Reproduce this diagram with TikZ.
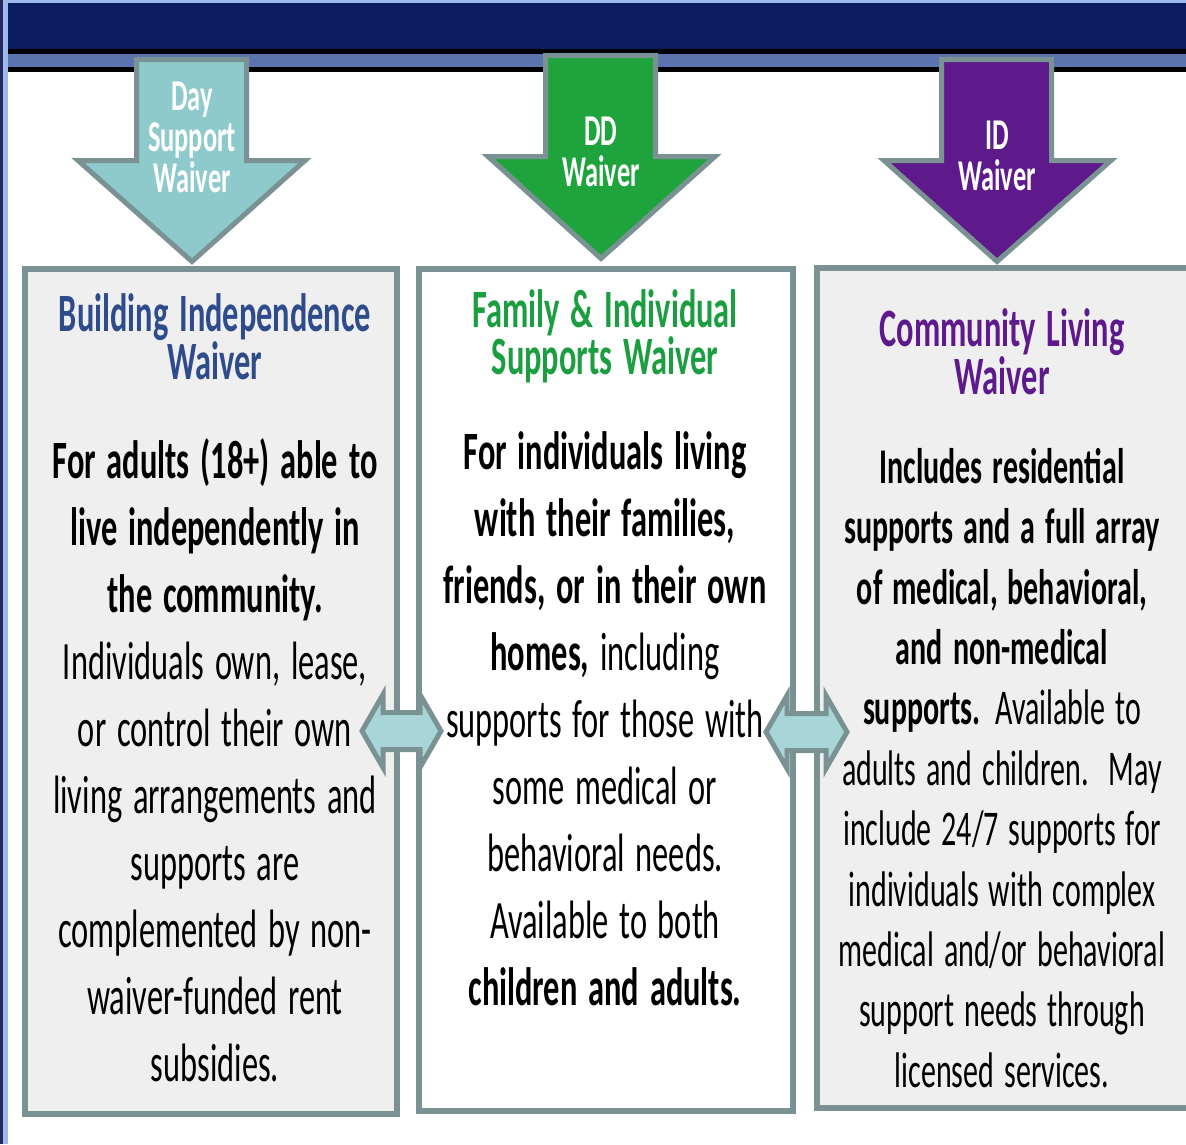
\documentclass[tikz,border=0pt]{standalone}
\usepackage{fontspec}
\setmainfont{Carlito}
\usepackage{tikz}

\definecolor{navy}{HTML}{0B1C5E}
\definecolor{band}{HTML}{5B74B0}
\definecolor{edgedark}{HTML}{232A5A}
\definecolor{edgelight}{HTML}{9DB9EE}
\definecolor{framegray}{HTML}{7A9294}
\definecolor{boxgray}{HTML}{EFEFEF}
\definecolor{dayteal}{HTML}{8ECACC}
\definecolor{ddgreen}{HTML}{1FA33C}
\definecolor{idpurple}{HTML}{5E1A8B}
\definecolor{linkcyan}{HTML}{A8D5D8}
\definecolor{biblue}{HTML}{2E4C8C}
\definecolor{fisgreen}{HTML}{1A9E3F}
\definecolor{clpurple}{HTML}{5E1A8C}

\begin{document}
\begin{tikzpicture}[x=1pt, y=-1pt,
  box/.style={draw=framegray, line width=6pt, inner sep=0pt},
  downarrow/.style={draw=framegray, line width=5pt, line join=miter},
  linkarrow/.style={draw=framegray, fill=linkcyan, line width=5pt, line join=miter},
  narrow/.style={xscale=0.6, align=center},
  arrowlabel/.style={narrow, text=white, font=\fontsize{44}{41}\selectfont\bfseries, inner sep=1pt},
  title/.style={narrow, font=\fontsize{54}{43}\selectfont\bfseries, text width=640pt},
  body/.style={narrow, font=\fontsize{54}{67}\selectfont, text width=640pt}]
\useasboundingbox (0,0) rectangle (1186,1144);
\clip (0,0) rectangle (1186,1144);
\fill[white] (0,0) rectangle (1186,1144);

% header bar
\fill[edgedark] (0,0) rectangle (3.3,1144);
\fill[edgelight] (3.3,0) rectangle (8.3,1144);
\fill[edgelight] (3.3,0) rectangle (1186,3.3);
\fill[navy] (8.3,3.3) rectangle (1186,49);
\fill[black] (8.3,49) rectangle (1186,54);
\fill[band] (8.3,54) rectangle (1186,67);
\fill[black] (8.3,67) rectangle (1186,72);

% the three waiver boxes
\node[box, fill=boxgray, minimum width=372pt, minimum height=845pt] (bi) at (210.5,691) {};
\node[box, fill=white, minimum width=374pt, minimum height=842pt] (fis) at (605.5,689.5) {};
\node[box, fill=boxgray, minimum width=377.5pt, minimum height=839.5pt] (cl) at (1006,688) {};

% down arrows
\draw[downarrow, fill=dayteal] (136.5,59.5) -- (246.5,59.5) -- (246.5,160.5) -- (305,160.5)
  -- (192,261.5) -- (78,160.5) -- (136.5,160.5) -- cycle;
\node[arrowlabel] (day) at (192,137) {Day\\Support\\Waiver};
\draw[downarrow, fill=ddgreen] (545.5,55.5) -- (655.5,55.5) -- (655.5,156.5) -- (715,156.5)
  -- (601,258.5) -- (488,156.5) -- (545.5,156.5) -- cycle;
\node[arrowlabel] (dd) at (601,152) {DD\\Waiver};
\draw[downarrow, fill=idpurple] (941.5,59.5) -- (1051.5,59.5) -- (1051.5,160.5) -- (1111,160.5)
  -- (997,261.5) -- (884,160.5) -- (941.5,160.5) -- cycle;
\node[arrowlabel] (id) at (997,156) {ID\\Waiver};

% titles
\node[title, text=biblue] (bi-title) at (215,337) {Building Independence\\Waiver};
\node[title, text=fisgreen] (fis-title) at (605,336) {Family \& Individual\\Supports Waiver};
\node[title, text=clpurple] (cl-title) at (1002,352) {Community Living\\Waiver};

% descriptions
\node[body] (bi-text) at (215,760) {\bfseries For adults (18+) able to\\live independently in\\the community.\\
  \mdseries Individuals own, lease,\\or control their own\\living arrangements and\\supports are\\
  complemented by non-\\waiver-funded rent\\subsidies.};
\node[body] (fis-text) at (605,719) {\bfseries For individuals living\\with their families,\\friends, or in their own\\
  homes, \mdseries including\\supports for those with\\some medical or\\behavioral needs.\\Available to both\\
  \bfseries children and adults.};
\node[body, font=\fontsize{50}{60.4}\selectfont] (cl-text) at (1002,768) {\bfseries Includes residential\\
  supports and a full array\\of medical, behavioral,\\and non-medical\\supports. \mdseries Available to\\
  adults and children.\ \ May\\include 24/7 supports for\\individuals with complex\\
  medical and/or behavioral\\support needs through\\licensed services.};

% links between neighbouring boxes
\draw[linkarrow] (362,731) -- (383,694.5) -- (383,712.5) -- (420,712.5) -- (420,694.5)
  -- (441,731) -- (420,767.5) -- (420,749.5) -- (383,749.5) -- (383,767.5) -- cycle;
\draw[linkarrow] (766,732) -- (787,695.5) -- (787,713.5) -- (826,713.5) -- (826,695.5)
  -- (847,732) -- (826,768.5) -- (826,750.5) -- (787,750.5) -- (787,768.5) -- cycle;
\end{tikzpicture}
\end{document}
